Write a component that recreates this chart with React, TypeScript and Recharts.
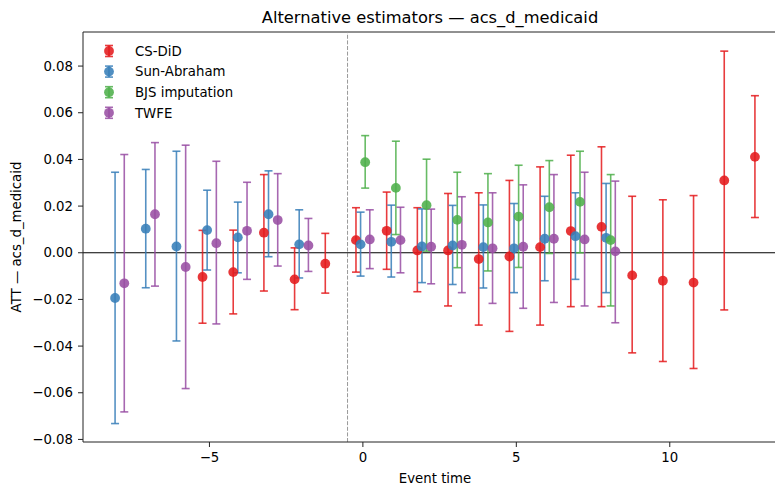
import React from "react";
import {
  ComposedChart,
  ErrorBar,
  ReferenceLine,
  Scatter,
  XAxis,
  YAxis,
} from "recharts";

// event times per estimator
const csEvents = [-5, -4, -3, -2, -1, 0, 1, 2, 3, 4, 5, 6, 7, 8, 9, 10, 11, 12, 13];
const saEvents = [-8, -7, -6, -5, -4, -3, -2, 0, 1, 2, 3, 4, 5, 6, 7, 8];
const bjsEvents = [0, 1, 2, 3, 4, 5, 6, 7, 8];
const twfeEvents = [-8, -7, -6, -5, -4, -3, -2, 0, 1, 2, 3, 4, 5, 6, 7, 8];

// CS-DiD
const csEst = [-0.0104, -0.0083, 0.0086, -0.0114, -0.0047, 0.0054, 0.0094, 0.001, 0.001, -0.0027, -0.0016, 0.0024, 0.0093, 0.0111, -0.0097, -0.012, -0.0128, 0.031, 0.0411];
const csLo = [-0.0302, -0.0262, -0.0164, -0.0244, -0.0173, -0.0083, -0.0071, -0.0167, -0.0228, -0.031, -0.0337, -0.031, -0.0231, -0.0231, -0.0429, -0.0466, -0.0496, -0.0245, 0.0151];
const csHi = [0.0096, 0.0097, 0.0335, 0.0021, 0.0083, 0.0193, 0.026, 0.0193, 0.0254, 0.0257, 0.031, 0.0368, 0.0418, 0.0454, 0.0242, 0.0227, 0.0245, 0.0864, 0.0673];

// Sun-Abraham
const saEst = [-0.0194, 0.0103, 0.0027, 0.0097, 0.0066, 0.0165, 0.0036, 0.0036, 0.0047, 0.0027, 0.0031, 0.0024, 0.0019, 0.006, 0.0071, 0.0064];
const saLo = [-0.0732, -0.015, -0.0378, -0.0074, -0.0086, -0.0017, -0.0108, -0.01, -0.0104, -0.0128, -0.0136, -0.0151, -0.0171, -0.012, -0.0114, -0.0171];
const saHi = [0.0345, 0.0357, 0.0435, 0.0268, 0.0217, 0.0351, 0.0184, 0.0174, 0.0204, 0.0188, 0.0203, 0.0205, 0.0211, 0.0242, 0.0257, 0.0297];

// BJS imputation
const bjsEst = [0.0388, 0.0278, 0.0204, 0.0141, 0.013, 0.0155, 0.0195, 0.0218, 0.0054];
const bjsLo = [0.0277, 0.0078, 0.0007, -0.0064, -0.0078, -0.0063, -0.0003, 0.0, -0.0228];
const bjsHi = [0.0502, 0.0478, 0.0401, 0.0345, 0.0339, 0.0375, 0.0395, 0.0435, 0.0335];

// TWFE
const twfeEst = [-0.0131, 0.0165, -0.0061, 0.0041, 0.0094, 0.014, 0.0031, 0.0057, 0.0054, 0.0026, 0.0034, 0.0019, 0.0026, 0.006, 0.0057, 0.0006];
const twfeLo = [-0.0682, -0.0143, -0.0582, -0.0305, -0.0114, -0.0057, -0.008, -0.0068, -0.0086, -0.0133, -0.0171, -0.0217, -0.0238, -0.0213, -0.0228, -0.03];
const twfeHi = [0.0421, 0.0472, 0.0461, 0.0392, 0.0302, 0.0339, 0.0147, 0.0184, 0.0195, 0.0187, 0.024, 0.0257, 0.0291, 0.0335, 0.0345, 0.0307];

const xTicks = [-5, 0, 5, 10];
const yTicks = [-0.08, -0.06, -0.04, -0.02, 0, 0.02, 0.04, 0.06, 0.08];

const X_DOMAIN: [number, number] = [-9.12, 13.82];
const Y_DOMAIN: [number, number] = [-0.0811, 0.0946];
const FONT = "DejaVu Sans, sans-serif";

const rows = (ev: number[], est: number[], lo: number[], hi: number[], offset: number) =>
  ev.map((e, i) => ({
    x: e + offset,
    y: est[i],
    err: [est[i] - lo[i], hi[i] - est[i]],
  }));

const series = [
  { name: "CS-DiD", color: "#e41a1c", data: rows(csEvents, csEst, csLo, csHi, -0.225) },
  { name: "Sun-Abraham", color: "#377eb8", data: rows(saEvents, saEst, saLo, saHi, -0.075) },
  { name: "BJS imputation", color: "#4daf4a", data: rows(bjsEvents, bjsEst, bjsLo, bjsHi, 0.075) },
  { name: "TWFE", color: "#984ea3", data: rows(twfeEvents, twfeEst, twfeLo, twfeHi, 0.225) },
];

const fmtY = (v: number) => {
  const s = Math.abs(v).toFixed(2);
  return v < -1e-9 ? `\u2212${s}` : s;
};
const fmtX = (v: number) => (v < 0 ? `\u2212${Math.abs(v)}` : `${v}`);

const tickStyle = { fill: "#000", fontSize: 13.3, fontFamily: FONT };

export default function App() {
  return (
    <div
      style={{
        position: "absolute",
        left: 0,
        top: 0,
        width: 775,
        height: 489,
        overflow: "hidden",
        background: "#fff",
      }}
    >
      <ComposedChart
        width={787}
        height={489}
        margin={{ top: 32, right: 0, bottom: 0, left: 0 }}
      >
        <XAxis
          type="number"
          dataKey="x"
          domain={X_DOMAIN}
          ticks={xTicks}
          allowDataOverflow
          tickFormatter={fmtX}
          tick={tickStyle}
          tickSize={5}
          tickMargin={6}
          height={47}
          axisLine={{ stroke: "#222" }}
          tickLine={{ stroke: "#222" }}
          label={(p: any) => {
            const vb = p.viewBox;
            return (
              <text
                x={vb.x + vb.width / 2}
                y={483}
                textAnchor="middle"
                fontSize={13.3}
                fontFamily={FONT}
                fill="#000"
              >
                Event time
              </text>
            );
          }}
        />
        <YAxis
          type="number"
          dataKey="y"
          domain={Y_DOMAIN}
          ticks={yTicks}
          allowDataOverflow
          tickFormatter={fmtY}
          tick={tickStyle}
          tickSize={5}
          tickMargin={5}
          width={83}
          axisLine={{ stroke: "#222" }}
          tickLine={{ stroke: "#222" }}
          label={(p: any) => {
            const vb = p.viewBox;
            const cy = vb.y + vb.height / 2;
            return (
              <text
                x={21}
                y={cy}
                transform={`rotate(-90 21 ${cy})`}
                textAnchor="middle"
                fontSize={13.3}
                fontFamily={FONT}
                fill="#000"
              >
                ATT — acs_d_medicaid
              </text>
            );
          }}
        />
        <ReferenceLine y={Y_DOMAIN[1]} stroke="#222" strokeWidth={1} />
        <ReferenceLine x={-0.5} stroke="#999" strokeDasharray="4 1.6" strokeWidth={1} />
        <ReferenceLine y={0} stroke="#000" strokeWidth={1} />
        {series.map((s) => (
          <Scatter
            key={s.name}
            name={s.name}
            data={s.data}
            isAnimationActive={false}
            shape={(p: any) => (
              <circle cx={p.cx} cy={p.cy} r={4.9} fill={s.color} fillOpacity={0.88} />
            )}
          >
            <ErrorBar
              dataKey="err"
              direction="y"
              width={4}
              stroke={s.color}
              strokeWidth={1.6}
              strokeOpacity={0.85}
              isAnimationActive={false}
            />
          </Scatter>
        ))}
      </ComposedChart>
      <svg
        width={775}
        height={489}
        style={{ position: "absolute", left: 0, top: 0, pointerEvents: "none" }}
      >
        <text
          x={430}
          y={23}
          textAnchor="middle"
          fontSize={16.3}
          fontFamily={FONT}
          fill="#000"
        >
          Alternative estimators — acs_d_medicaid
        </text>
        {series.map((s, i) => {
          const cy = 51 + i * 20.6;
          return (
            <g key={s.name}>
              <line x1={109} x2={109} y1={cy - 5.5} y2={cy + 5.5} stroke={s.color} strokeWidth={1.6} strokeOpacity={0.85} />
              <line x1={105} x2={113} y1={cy - 5.5} y2={cy - 5.5} stroke={s.color} strokeWidth={1.6} strokeOpacity={0.85} />
              <line x1={105} x2={113} y1={cy + 5.5} y2={cy + 5.5} stroke={s.color} strokeWidth={1.6} strokeOpacity={0.85} />
              <circle cx={109} cy={cy} r={4.9} fill={s.color} fillOpacity={0.88} />
              <text x={135} y={cy + 4.8} fontSize={13.3} fontFamily={FONT} fill="#000">
                {s.name}
              </text>
            </g>
          );
        })}
      </svg>
    </div>
  );
}
